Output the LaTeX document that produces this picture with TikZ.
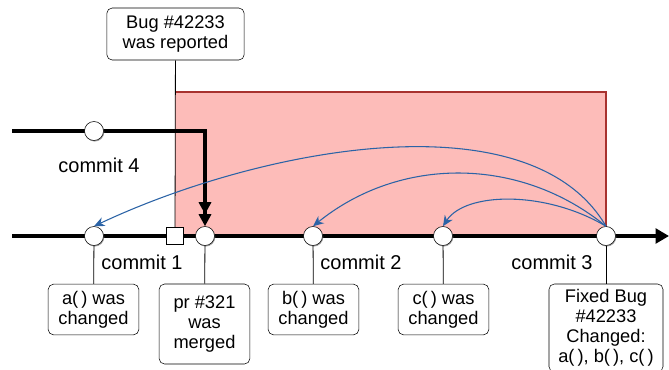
\documentclass[tikz,border=0pt]{standalone}
\usepackage{fontspec}
\setmainfont{Liberation Sans}
\usetikzlibrary{arrows.meta,shadows,backgrounds}
\definecolor{fixpink}{HTML}{FDBCB9}
\definecolor{fixred}{HTML}{A8322F}
\definecolor{linkblue}{HTML}{2B63A6}
\tikzset{commit/.style={circle,draw,fill=white,inner sep=0pt,minimum size=14.25pt,
   drop shadow={shadow xshift=0.6pt,shadow yshift=-0.8pt,opacity=0.7}},
 note/.style={draw,rounded corners=4pt,fill=white,align=center,inner sep=2pt,
   font=\fontsize{13.7}{15}\selectfont,minimum width=68pt,minimum height=38pt},
 tag/.style={font=\fontsize{15}{17}\selectfont},
 branch/.style={line width=2.4pt},
 stem/.style={line width=0.6pt},
 link/.style={linkblue,line width=0.8pt,-{Stealth[length=8pt,width=7pt]}},
 }

\begin{document}
\begin{tikzpicture}[x=0.75pt,y=-0.75pt]
        \useasboundingbox (0,0) rectangle (669,369);
        % commits on the two branches
        \node[commit] (c4) at (94,131) {};
        \node[commit] (a) at (94,236) {};
        \node[draw,fill=white,inner sep=0pt,minimum size=12.75pt] (report) at (175,236) {};
        \node[commit] (pr) at (205,236) {};
        \node[commit] (b) at (313,236) {};
        \node[commit] (c) at (443,236) {};
        \node[commit] (fix) at (606,236) {};
        \coordinate (mainstart) at (12,236);
        \coordinate (mainend) at (669,236);
        \coordinate (sidestart) at (12,131);
        % notes
        \node[note,minimum width=103pt,minimum height=39pt] (bug) at (175.5,34) {Bug \#42233\\was reported};
        \node[note] (achg) at (93.5,309.5) {a(\,) was\\changed};
        \node[note,minimum height=60pt] (merge) at (204.5,324) {pr \#321\\was\\merged};
        \node[note] (bchg) at (313.5,309.5) {b(\,) was\\changed};
        \node[note] (cchg) at (443.5,309.5) {c(\,) was\\changed};
        \node[note,minimum width=85.5pt,minimum height=66pt] (fixchg) at (606,328) {Fixed Bug\\\#42233\\Changed:\\a(\,), b(\,), c(\,)};
        \node[tag] (l1) at (142,262) {commit 1};
        \node[tag] (l2) at (361,262) {commit 2};
        \node[tag] (l3) at (552,262) {commit 3};
        \node[tag] (l4) at (99,165) {commit 4};
        \begin{scope}[on background layer]
            \fill[fixpink] (report.center |- 0,92) rectangle (fix.center);
            \draw[fixred,line width=2.2pt] (report.center |- 0,92) -- (fix.center |- 0,92) -- (fix.center);
            \draw[branch,-{Triangle[length=10pt,width=11pt]}] (mainstart) -- (mainend);
            \draw[branch,-{Triangle[length=9pt,width=9pt]Triangle[length=9pt,width=9pt]}]
                (sidestart) -- (sidestart -| pr) -- (pr.north);
            \draw[stem] (bug) -- (report);
        \end{scope}
        \draw[stem] (a) -- (achg);
        \draw[stem] (pr) -- (merge);
        \draw[stem] (b) -- (bchg);
        \draw[stem] (c) -- (cchg);
        \draw[stem] (fix) -- (fixchg);
        % functions touched by the fix
        \draw[link] (fix.north) .. controls (530,96) and (260,148) .. (a.north);
        \draw[link] (fix.north) .. controls (520,156) and (400,156) .. (b.north);
        \draw[link] (fix.north) .. controls (545,190) and (465,192) .. (c.north);
    \end{tikzpicture}
\end{document}
